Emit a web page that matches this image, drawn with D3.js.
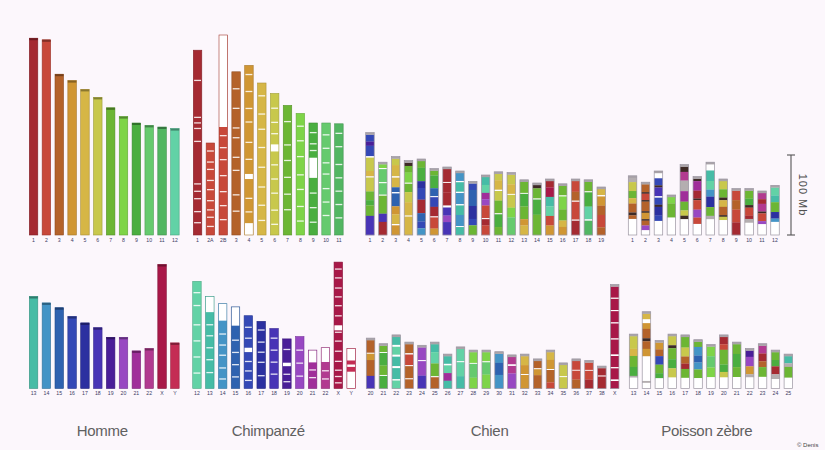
<!DOCTYPE html>
<html><head><meta charset="utf-8">
<script src="https://cdn.jsdelivr.net/npm/d3@7"></script>
<style>html,body{margin:0;padding:0;background:#fcf7fc;}svg{display:block;}</style>
</head><body>
<svg id="chart" width="825" height="450"></svg>
<script>
// ---------------- DATA ----------------
const speciesNames = ["Homme", "Chimpanzé", "Chien", "Poisson zèbre"];

// Homme (Mb)
const hommeTopLabels = ["1","2","3","4","5","6","7","8","9","10","11","12"];
const hommeTopMb = [246,244,201,193,182,172,159,148,140,137,135,133];
const hommeBotLabels = ["13","14","15","16","17","18","19","20","21","22","X","Y"];
const hommeBotMb = [115,107,101,90,82,76,64,64,47,50,155,57];

// Chimpanzé (Mb), homologous human colour key, white bands, blank (unassembled) zones
const chimpTopLabels = ["1","2A","2B","3","4","5","6","7","8","9","10","11"];
const chimpTopMb = [231,115,250,204,212,190,177,162,152,140,140,139];
const chimpTopKey = ["1","2","2","3","4","5","6","7","8","9","10","11"];
const chimpTopBands = [
  [0.16,0.36,0.39,0.42,0.49,0.72,0.76,0.8,0.87,0.93],
  [0.08,0.2,0.28,0.4,0.5,0.62,0.72,0.8,0.9],
  [0.5,0.56,0.62,0.7,0.78,0.85,0.92],
  [0.1,0.22,0.34,0.4,0.52,0.6,0.75,0.85],
  [0.05,0.15,0.25,0.33,0.45,0.55,0.78,0.86],
  [0.08,0.2,0.3,0.42,0.55,0.68,0.8,0.9],
  [0.1,0.2,0.28,0.5,0.6,0.7,0.82,0.92],
  [0.12,0.3,0.42,0.55,0.68,0.8],
  [0.1,0.22,0.35,0.5,0.62,0.76,0.88],
  [0.08,0.18,0.24,0.62,0.75,0.88],
  [0.1,0.22,0.35,0.45,0.58,0.7,0.82],
  [0.08,0.2,0.36,0.48,0.6,0.72,0.84]
];
const chimpTopBlank = [[],[],[[0,0.46]],[],[[0.64,0.67],[0.93,1]],[],[[0.36,0.41]],[],[],[[0.31,0.49]],[],[]];

const chimpBotLabels = ["12","13","14","15","16","17","18","19","20","21","22","X","Y"];
const chimpBotMb = [134,115,106,102,91,84,75,62,65,48,51,158,50];
const chimpBotKey = ["12","13","14","15","16","17","18","19","20","21","22","X","Y"];
const chimpBotBands = [
  [0.1,0.22,0.4,0.55,0.7,0.85],
  [0.3,0.42,0.55,0.68,0.82],
  [0.35,0.48,0.6,0.75,0.88],
  [0.4,0.55,0.7,0.85],
  [0.15,0.3,0.62,0.75,0.88],
  [0.12,0.3,0.45,0.6,0.8],
  [0.15,0.35,0.55,0.75],
  [0.2,0.7,0.85],
  [0.25,0.5,0.75],
  [0.5,0.7],
  [0.55,0.75],
  [0.05,0.12,0.2,0.27,0.34,0.42,0.55,0.62,0.7,0.78,0.85,0.9,0.95],
  []
];
const chimpBotBlank = [[],[[0,0.17]],[[0,0.2]],[[0,0.23]],[[0.44,0.5]],[],[],[[0.48,0.55]],[],[[0,0.32]],[[0,0.35]],[[0.5,0.54]],[[0,0.3],[0.4,0.46],[0.58,1]]];

// Chien (Mb) and synteny blocks [human colour key, relative length] from top to bottom
const chienTopLabels = ["1","2","3","4","5","6","7","8","9","10","11","12","13","14","15","16","17","18","19"];
const chienTopMb = [128,91,98,93,95,83,85,80,67,75,79,78,69,65,70,64,70,69,60];
const chienTopSeg = [
  [["16",20],["19",12],["16",30],["w",4],["6",38],["5",16],["w",3],["6",40],["7",25],["9",15],["7",30],["18",55]],
  [["8",12],["w",3],["10",40],["w",3],["10",35],["w",3],["7",55],["18",25],["1",40]],
  [["6",20],["5",35],["w",4],["5",30],["15",15],["w",4],["15",40],["4",25],["5",30],["w",4],["4",30]],
  [["k",10],["7",20],["8",30],["w",3],["7",25],["6",30],["5",40],["w",3],["5",55]],
  [["7",20],["9",40],["17",20],["16",35],["1",40],["15",25],["16",20],["14",20]],
  [["7",15],["9",40],["15",25],["w",3],["16",30],["1",30],["w",3],["2",35],["4",20]],
  [["1",40],["w",3],["1",30],["1",40],["w",6],["18",25],["20",20],["18",40]],
  [["14",25],["w",4],["13",30],["w",4],["14",35],["w",4],["13",30],["14",35],["w",3],["13",25]],
  [["16",20],["15",50],["17",40],["16",20],["7",30]],
  [["13",25],["12",25],["21",20],["20",20],["2",40],["w",3],["1",20],["2",30]],
  [["6",20],["5",30],["w",4],["6",30],["7",40],["w",3],["9",40],["7",25]],
  [["6",30],["5",30],["w",3],["6",40],["8",30],["10",55]],
  [["7",35],["w",3],["9",40],["7",40],["4",20],["5",30]],
  [["k",10],["7",30],["w",3],["9",45],["7",60]],
  [["1",20],["X",30],["13",30],["12",30],["2",30],["4",30]],
  [["7",30],["w",3],["8",40],["7",35],["5",20],["4",25]],
  [["2",30],["3",25],["w",3],["2",50],["w",3],["1",40]],
  [["7",30],["w",3],["9",45],["12",40],["w",4],["11",45]],
  [["5",20],["w",4],["4",30],["3",30],["2",40],["3",25]]
];
const chienBotLabels = ["20","21","22","23","24","25","26","27","28","29","30","31","32","33","34","35","36","37","38","X"];
const chienBotMb = [63,56,67,58,54,58,43,52,48,48,46,42,43,37,48,32,37,35,28,130];
const chienBotSeg = [
  [["3",40],["w",3],["4",20],["3",50],["18",40]],
  [["7",20],["w",3],["9",40],["7",30],["w",3],["9",40]],
  [["13",25],["w",6],["12",25],["w",6],["13",30],["w",6],["13",35],["w",4],["12",25]],
  [["3",30],["w",4],["2",35],["w",3],["3",40],["w",3],["3",30]],
  [["20",40],["w",3],["20",45],["18",40]],
  [["13",25],["12",35],["7",40],["w",3],["3",35]],
  [["13",25],["w",5],["12",25],["21",25],["13",25]],
  [["12",40],["w",3],["12",45],["13",40]],
  [["8",35],["w",3],["10",45],["8",35]],
  [["8",30],["w",3],["10",40],["8",45]],
  [["14",30],["15",40],["14",45]],
  [["22",25],["w",5],["22",25],["20",50]],
  [["5",30],["4",30],["w",3],["4",45]],
  [["3",25],["w",3],["4",20],["3",45]],
  [["5",25],["4",30],["w",3],["3",40],["2",20]],
  [["6",40],["w",3],["6",40]],
  [["2",30],["w",3],["2",30],["3",30]],
  [["2",25],["w",3],["2",30],["1",30]],
  [["1",25],["w",3],["1",40]],
  [["X",30],["w",3],["X",30],["w",3],["X",30],["w",3],["X",40],["w",3],["X",40],["w",4],["X",30],["w",3],["X",30],["w",4],["X",20]]
];

// Poisson zèbre (Mb) and synteny blocks
const poissonTopLabels = ["1","2","3","4","5","6","7","8","9","10","11","12"];
const poissonTopMb = [74,66,80,50,88,73,91,70,58,58,55,62];
const poissonTopSeg = [
  [["g",12],["6",25],["7",20],["5",15],["3",25],["k",8],["3",10],["w",45]],
  [["3",25],["k",5],["2",20],["k",5],["3",30],["k",5],["4",20],["k",5],["3",15],["20",15],["w",15]],
  [["w",15],["16",20],["k",6],["18",25],["w",4],["16",20],["k",6],["17",25],["16",15],["w",40]],
  [["8",20],["7",45],["w",55]],
  [["k",15],["22",25],["g",30],["21",30],["7",25],["6",15],["k",10],["w",45]],
  [["k",8],["21",30],["1",25],["k",5],["2",30],["20",25],["2",20],["w",35]],
  [["w",18],["13",30],["12",25],["14",20],["17",30],["7",25],["g",10],["w",45]],
  [["6",25],["7",25],["k",8],["5",20],["3",25],["k",5],["6",10],["w",45]],
  [["2",30],["3",30],["2",40],["1",40]],
  [["7",25],["9",20],["k",8],["2",25],["1",10],["g",12],["w",38]],
  [["22",20],["1",15],["22",25],["k",6],["2",25],["20",10],["w",35]],
  [["12",25],["13",20],["7",30],["17",20],["14",10],["w",40]]
];
const poissonBotLabels = ["13","14","15","16","17","18","19","20","21","22","23","24","25"];
const poissonBotMb = [68,96,60,68,67,61,55,67,58,50,56,48,43];
const poissonBotSeg = [
  [["6",35],["5",20],["7",30],["9",25],["g",5],["w",30]],
  [["5",15],["w",10],["4",15],["3",25],["k",8],["3",20],["4",20],["w",65],["g",5],["w",15]],
  [["4",20],["3",20],["16",25],["7",25],["9",15],["w",30]],
  [["6",25],["k",8],["7",30],["9",25],["6",25],["w",30]],
  [["7",30],["6",25],["3",20],["1",15],["7",25],["w",30]],
  [["7",15],["14",25],["15",20],["14",20],["7",25],["w",30]],
  [["8",30],["10",35],["8",30],["w",35]],
  [["1",20],["2",15],["7",40],["9",20],["6",15],["w",30]],
  [["7",30],["9",40],["7",30],["w",35]],
  [["19",20],["20",30],["4",25],["g",10],["w",35]],
  [["22",20],["1",20],["3",15],["7",25],["w",30]],
  [["7",25],["9",20],["1",25],["g",15],["w",30]],
  [["13",20],["g",10],["7",30],["w",30]]
];

const scaleBarMb = 100;

// ---------------- STYLE ----------------
const colorOf = {
  "1":"#a52a32","2":"#c8483a","3":"#b4622a","4":"#d09634","5":"#d6b646","6":"#c8c84c",
  "7":"#6cb634","8":"#7ed448","9":"#4aae40","10":"#66ca6e","11":"#52b662","12":"#62d2a6",
  "13":"#46bca6","14":"#4494c6","15":"#2e62b0","16":"#3448b6","17":"#2c30a0","18":"#4834b6",
  "19":"#4a1e98","20":"#9848c2","21":"#a02e9a","22":"#b23a90","X":"#a81848","Y":"#c42c54",
  "w":"#ffffff","k":"#3e2a26","g":"#b4aeb0"
};
const BG = "#fcf7fc";
const topBase = 235, botBase = 388.5;
const step = 12.85, bw = 8.5;

// ---------------- DRAW ----------------
const svg = d3.select("#chart");
svg.append("rect").attr("width",825).attr("height",450).attr("fill",BG);

const yLen = d3.scaleLinear().domain([0,250]).range([0,200]);

function band(labels, x0, st) {
  const s = st || step;
  return d3.scaleBand().domain(labels)
    .range([x0, x0 + s*(labels.length-1) + bw])
    .paddingInner(1 - bw/s).paddingOuter(0);
}

function tickLabels(g, x, labels, base) {
  g.append("g").selectAll("text").data(labels).join("text")
    .attr("x", d => x(d) + x.bandwidth()/2)
    .attr("y", base + 6.5)
    .attr("text-anchor","middle")
    .attr("font-family","Liberation Sans, Arial, sans-serif")
    .attr("font-size", 5.2)
    .attr("fill","#3c3c64")
    .text(d => d);
}

function drawPlain(labels, mb, x0, base) {
  const x = band(labels, x0);
  const g = svg.append("g");
  const data = labels.map((l,i) => ({l, v: mb[i], c: colorOf[l]}));
  g.selectAll("rect.bar").data(data).join("rect").attr("class","bar")
    .attr("x", d => x(d.l)).attr("y", d => base - yLen(d.v))
    .attr("width", x.bandwidth()).attr("height", d => yLen(d.v))
    .attr("fill", d => d.c)
    .attr("stroke", d => d3.color(d.c).darker(0.7)).attr("stroke-width",0.6);
  g.selectAll("rect.cap").data(data).join("rect").attr("class","cap")
    .attr("x", d => x(d.l)).attr("y", d => base - yLen(d.v))
    .attr("width", x.bandwidth()).attr("height", 2)
    .attr("fill", d => d3.color(d.c).darker(1.2));
  tickLabels(g, x, labels, base);
  return x;
}

function drawBanded(labels, mb, keys, bands, blanks, x0, base) {
  const x = band(labels, x0);
  const g = svg.append("g");
  labels.forEach((l,i) => {
    const h = yLen(mb[i]), top = base - h, c = colorOf[keys[i]];
    const bx = x(l), w = x.bandwidth();
    g.append("rect").attr("x",bx).attr("y",top).attr("width",w).attr("height",h).attr("fill",c);
    bands[i].forEach(f => {
      g.append("rect").attr("x",bx+0.8).attr("y",top + f*h).attr("width",w-1.6).attr("height",1.3)
        .attr("fill","#ffffff").attr("opacity",0.85);
    });
    blanks[i].forEach(([a,b]) => {
      g.append("rect").attr("x",bx).attr("y",top + a*h).attr("width",w).attr("height",(b-a)*h)
        .attr("fill","#ffffff");
    });
    g.append("rect").attr("x",bx).attr("y",top).attr("width",w).attr("height",h)
      .attr("fill","none").attr("stroke", d3.color(c).darker(0.6)).attr("stroke-width",0.6);
  });
  tickLabels(g, x, labels, base);
  return x;
}

function drawSegmented(labels, mb, segs, x0, base, st) {
  const x = band(labels, x0, st);
  const g = svg.append("g");
  labels.forEach((l,i) => {
    const h = yLen(mb[i]), top = base - h;
    const bx = x(l), w = x.bandwidth();
    const total = d3.sum(segs[i], s => s[1]);
    const sy = d3.scaleLinear().domain([0,total]).range([top + 2, base]);
    let acc = 0;
    segs[i].forEach(([k,v]) => {
      g.append("rect").attr("x",bx).attr("y",sy(acc)).attr("width",w)
        .attr("height", Math.max(0, sy(acc+v) - sy(acc)) + 0.15)
        .attr("fill", colorOf[k]);
      acc += v;
    });
    g.append("rect").attr("x",bx).attr("y",top).attr("width",w).attr("height",2.2)
      .attr("fill","#a9a3a8");
    g.append("rect").attr("x",bx).attr("y",top).attr("width",w).attr("height",h)
      .attr("fill","none").attr("stroke","#9a94a0").attr("stroke-width",0.7);
  });
  tickLabels(g, x, labels, base);
  return x;
}

const xs = [];
const hT = drawPlain(hommeTopLabels, hommeTopMb, 29.3, topBase);
drawPlain(hommeBotLabels, hommeBotMb, 29.3, botBase);
const cT = drawBanded(chimpTopLabels, chimpTopMb, chimpTopKey, chimpTopBands, chimpTopBlank, 193.3, topBase);
const cB = drawBanded(chimpBotLabels, chimpBotMb, chimpBotKey, chimpBotBands, chimpBotBlank, 192.7, botBase);
const dT = drawSegmented(chienTopLabels, chienTopMb, chienTopSeg, 365.7, topBase);
const dB = drawSegmented(chienBotLabels, chienBotMb, chienBotSeg, 366.3, botBase);
const pT = drawSegmented(poissonTopLabels, poissonTopMb, poissonTopSeg, 628.3, topBase, 12.95);
drawSegmented(poissonBotLabels, poissonBotMb, poissonBotSeg, 629.3, botBase, 12.9);

// species labels
const centers = [
  (hT.range()[0] + hT.range()[1]) / 2 - 2,
  (cT.range()[0] + cT.range()[1]) / 2,
  (dT.range()[0] + dT.range()[1]) / 2 + 4,
  (pT.range()[0] + pT.range()[1]) / 2 + 3
];
svg.append("g").selectAll("text").data(speciesNames).join("text")
  .attr("x", (d,i) => centers[i]).attr("y", 435.5)
  .attr("text-anchor","middle")
  .attr("font-family","Liberation Sans, Arial, sans-serif")
  .attr("font-size", 15).attr("letter-spacing", -0.3)
  .attr("fill","#606060")
  .text(d => d);

// scale bar (100 Mb)
const sbx = 791;
const sg = svg.append("g").attr("stroke","#555").attr("stroke-width",1.1);
sg.append("line").attr("x1",sbx).attr("x2",sbx).attr("y1",topBase - yLen(scaleBarMb)).attr("y2",topBase);
sg.append("line").attr("x1",sbx-4).attr("x2",sbx+4).attr("y1",topBase - yLen(scaleBarMb)).attr("y2",topBase - yLen(scaleBarMb));
sg.append("line").attr("x1",sbx-4).attr("x2",sbx+4).attr("y1",topBase).attr("y2",topBase);
svg.append("text")
  .attr("transform", `translate(${sbx+8},${topBase - yLen(scaleBarMb)/2}) rotate(90)`)
  .attr("text-anchor","middle")
  .attr("font-family","Liberation Sans, Arial, sans-serif")
  .attr("font-size", 11).attr("letter-spacing", 1)
  .attr("fill","#505050")
  .text(scaleBarMb + " Mb");

// credit
svg.append("text").attr("x",797).attr("y",447)
  .attr("font-family","Liberation Sans, Arial, sans-serif")
  .attr("font-size",6).attr("fill","#444").text("© Denis");
</script>
</body></html>
